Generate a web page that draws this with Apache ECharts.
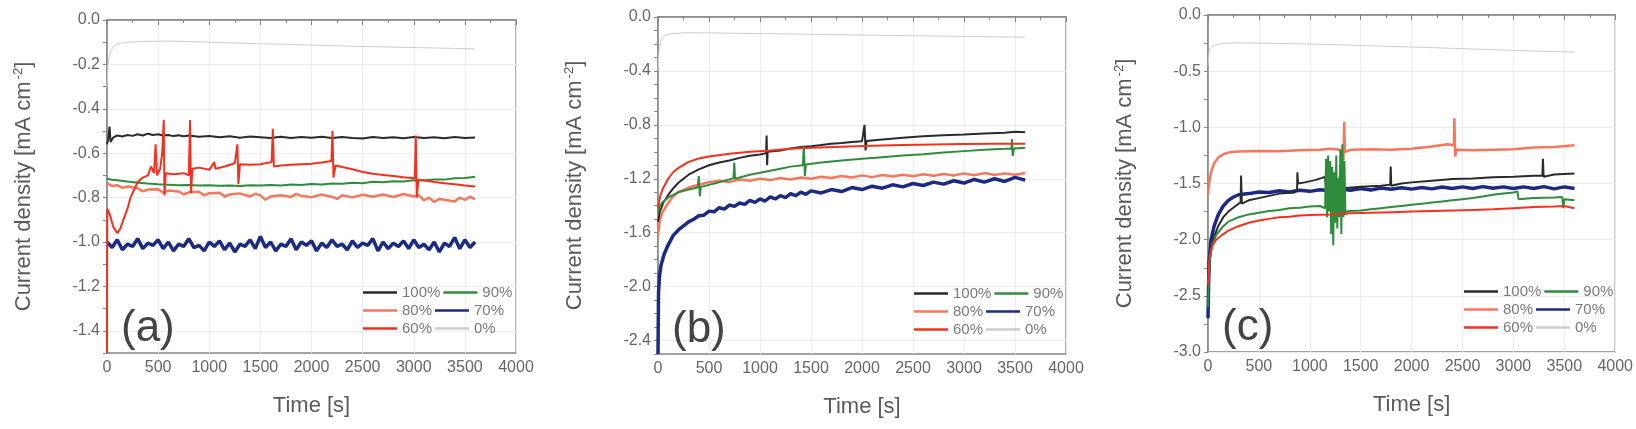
<!DOCTYPE html>
<html lang="en">
<head>
    <meta charset="UTF-8">
    <title>Current density vs time</title>
    <script src="https://cdn.jsdelivr.net/npm/echarts@6/dist/echarts.min.js"></script>
</head>
<body style="margin:0;background:#fff">
<div style="width: 1636px; height: 429px" id="chart"></div>

<script type="text/javascript">
    // legend order and line colours
    var names = ['100%', '90%', '80%', '70%', '60%', '0%'];
    var colors = {'100%': '#2a2a2a', '90%': '#2f8c3c', '80%': '#f6775c', '70%': '#1b2a82', '60%': '#f2321f', '0%': '#cdcdcd'};
    var widths = {'100%': 2, '90%': 2, '80%': 2.5, '70%': 3.5, '60%': 2, '0%': 1};
    var drawOrder = ['0%', '70%', '80%', '100%', '90%', '60%'];

    var xTicks = [0, 500, 1000, 1500, 2000, 2500, 3000, 3500, 4000];

    // ---- panel (a) ----
    var a0 = [[0,-0.3],[10,-0.2],[30,-0.15],[60,-0.12],[100,-0.107],[200,-0.1],[400,-0.096],[600,-0.095],[800,-0.097],[1000,-0.1],[1200,-0.103],[1500,-0.107],[1800,-0.11],[2000,-0.113],[2300,-0.117],[2600,-0.12],[3000,-0.124],[3300,-0.127],[3600,-0.13]];
    var a100 = [[0,-0.56],[10,-0.54],[25,-0.48],[35,-0.55],[60,-0.53],[100,-0.52],[150,-0.525],[200,-0.518],[250,-0.522],[300,-0.515],[350,-0.52],[400,-0.512],[450,-0.518],[500,-0.515],[550,-0.52],[600,-0.518],[650,-0.523],[700,-0.519],[750,-0.524],[800,-0.52],[900,-0.526],[1000,-0.522],[1100,-0.528],[1200,-0.524],[1300,-0.53],[1400,-0.525],[1500,-0.528],[1600,-0.532],[1700,-0.526],[1800,-0.531],[1900,-0.527],[2000,-0.53],[2100,-0.526],[2200,-0.532],[2300,-0.527],[2400,-0.531],[2500,-0.534],[2600,-0.527],[2700,-0.532],[2800,-0.528],[2900,-0.533],[3000,-0.527],[3100,-0.531],[3200,-0.528],[3300,-0.533],[3400,-0.527],[3500,-0.531],[3600,-0.529]];
    var a90 = [[0,-0.715],[50,-0.72],[100,-0.722],[200,-0.728],[300,-0.733],[400,-0.737],[500,-0.74],[600,-0.742],[700,-0.744],[800,-0.743],[900,-0.746],[1000,-0.744],[1100,-0.747],[1200,-0.745],[1300,-0.748],[1400,-0.744],[1500,-0.746],[1600,-0.743],[1700,-0.745],[1800,-0.741],[1900,-0.743],[2000,-0.739],[2100,-0.741],[2200,-0.737],[2300,-0.738],[2400,-0.733],[2500,-0.735],[2600,-0.729],[2700,-0.731],[2800,-0.726],[2900,-0.727],[3000,-0.722],[3100,-0.723],[3200,-0.718],[3300,-0.719],[3400,-0.713],[3500,-0.712],[3600,-0.706]];
    var a80 = [[0,-0.735],[50,-0.748],[100,-0.744],[150,-0.756],[200,-0.75],[300,-0.758],[350,-0.772],[400,-0.764],[500,-0.762],[550,-0.778],[600,-0.768],[700,-0.772],[750,-0.786],[800,-0.776],[900,-0.774],[950,-0.79],[1000,-0.78],[1100,-0.778],[1150,-0.795],[1200,-0.786],[1300,-0.781],[1400,-0.795],[1450,-0.783],[1500,-0.79],[1550,-0.81],[1600,-0.795],[1700,-0.789],[1800,-0.797],[1850,-0.783],[1900,-0.792],[2000,-0.798],[2100,-0.786],[2200,-0.797],[2250,-0.806],[2300,-0.789],[2400,-0.799],[2500,-0.787],[2600,-0.796],[2700,-0.786],[2800,-0.797],[2900,-0.784],[3000,-0.795],[3050,-0.79],[3100,-0.812],[3150,-0.8],[3200,-0.82],[3250,-0.806],[3300,-0.81],[3400,-0.818],[3450,-0.8],[3500,-0.81],[3550,-0.796],[3600,-0.808]];
    var a70 = [[0,-1.0],[50,-1.025],[100,-0.99],[150,-1.035],[200,-1.01],[250,-1.02],[300,-0.985],[350,-1.03],[400,-1.005],[450,-1.015],[500,-0.99],[550,-1.03],[600,-1.0],[650,-1.04],[700,-1.01],[750,-1.02],[800,-0.985],[850,-1.025],[900,-1.015],[950,-1.04],[1000,-1.0],[1050,-1.02],[1100,-0.995],[1150,-1.035],[1200,-1.005],[1250,-1.045],[1300,-1.01],[1350,-1.02],[1400,-0.99],[1450,-1.03],[1500,-0.975],[1550,-1.025],[1600,-1.0],[1650,-1.04],[1700,-1.01],[1750,-1.02],[1800,-0.985],[1850,-1.035],[1900,-1.0],[1950,-1.015],[2000,-0.995],[2050,-1.04],[2100,-1.005],[2150,-1.025],[2200,-0.99],[2250,-1.02],[2300,-1.01],[2350,-1.035],[2400,-0.995],[2450,-1.025],[2500,-1.005],[2550,-1.015],[2600,-0.985],[2650,-1.04],[2700,-1.0],[2750,-1.03],[2800,-1.005],[2850,-1.02],[2900,-0.995],[2950,-1.03],[3000,-0.99],[3050,-1.025],[3100,-1.01],[3150,-1.035],[3200,-1.0],[3250,-1.045],[3300,-1.005],[3350,-1.02],[3400,-0.98],[3450,-1.03],[3500,-0.99],[3550,-1.025],[3600,-1.0]];
    var a60 = [[0,-1.5],[3,-0.85],[30,-0.88],[60,-0.93],[100,-0.96],[130,-0.94],[160,-0.9],[200,-0.85],[230,-0.8],[260,-0.77],[300,-0.73],[350,-0.71],[400,-0.7],[430,-0.66],[460,-0.69],[475,-0.56],[490,-0.7],[520,-0.67],[540,-0.6],[555,-0.45],[562,-0.79],[575,-0.69],[650,-0.695],[750,-0.69],[800,-0.7],[812,-0.45],[822,-0.78],[835,-0.67],[900,-0.665],[1000,-0.675],[1050,-0.64],[1060,-0.67],[1150,-0.66],[1250,-0.645],[1275,-0.56],[1285,-0.74],[1300,-0.65],[1400,-0.652],[1500,-0.65],[1610,-0.64],[1622,-0.49],[1632,-0.66],[1700,-0.655],[1800,-0.652],[1900,-0.65],[2000,-0.648],[2100,-0.642],[2195,-0.635],[2205,-0.5],[2215,-0.71],[2235,-0.655],[2300,-0.662],[2400,-0.672],[2500,-0.685],[2600,-0.693],[2700,-0.698],[2800,-0.703],[2900,-0.708],[3010,-0.713],[3020,-0.52],[3030,-0.8],[3045,-0.72],[3100,-0.722],[3200,-0.73],[3300,-0.735],[3400,-0.74],[3500,-0.745],[3600,-0.75]];

    // ---- panel (b) ----
    var b0 = [[0,-0.4],[10,-0.25],[30,-0.17],[60,-0.14],[120,-0.125],[250,-0.117],[500,-0.118],[1000,-0.123],[1500,-0.128],[2000,-0.134],[2500,-0.139],[3000,-0.144],[3600,-0.15]];
    var b100 = [[0,-1.52],[20,-1.44],[50,-1.38],[100,-1.32],[150,-1.27],[200,-1.23],[300,-1.17],[400,-1.13],[500,-1.1],[600,-1.08],[700,-1.065],[800,-1.045],[900,-1.03],[1000,-1.02],[1060,-1.01],[1065,-0.88],[1070,-1.1],[1075,-1.0],[1200,-0.99],[1300,-0.975],[1400,-0.965],[1500,-0.958],[1600,-0.95],[1700,-0.94],[1800,-0.935],[1900,-0.928],[2000,-0.922],[2025,-0.8],[2035,-0.99],[2045,-0.92],[2200,-0.908],[2400,-0.895],[2600,-0.885],[2800,-0.878],[3000,-0.872],[3200,-0.865],[3400,-0.858],[3500,-0.852],[3600,-0.855]];
    var b90 = [[0,-1.45],[20,-1.4],[50,-1.37],[100,-1.34],[200,-1.3],[300,-1.28],[390,-1.265],[400,-1.18],[410,-1.33],[420,-1.26],[550,-1.235],[700,-1.205],[740,-1.195],[748,-1.08],[755,-1.2],[765,-1.19],[900,-1.17],[1000,-1.155],[1100,-1.14],[1200,-1.125],[1300,-1.11],[1420,-1.1],[1430,-0.955],[1440,-1.18],[1450,-1.095],[1600,-1.08],[1800,-1.065],[2000,-1.052],[2200,-1.04],[2400,-1.028],[2600,-1.018],[2800,-1.005],[3000,-0.995],[3200,-0.985],[3400,-0.978],[3465,-0.975],[3470,-0.905],[3478,-1.03],[3490,-0.975],[3600,-0.97]];
    var b80 = [[0,-1.62],[20,-1.5],[50,-1.44],[100,-1.38],[150,-1.33],[200,-1.3],[300,-1.265],[400,-1.245],[500,-1.225],[600,-1.215],[700,-1.225],[800,-1.205],[900,-1.215],[1000,-1.2],[1100,-1.21],[1200,-1.195],[1300,-1.205],[1400,-1.19],[1500,-1.2],[1600,-1.185],[1700,-1.195],[1800,-1.18],[1900,-1.19],[2000,-1.175],[2100,-1.188],[2200,-1.172],[2300,-1.184],[2400,-1.17],[2500,-1.182],[2600,-1.166],[2700,-1.178],[2800,-1.164],[2900,-1.176],[3000,-1.16],[3100,-1.174],[3200,-1.158],[3300,-1.172],[3400,-1.16],[3500,-1.17],[3600,-1.158]];
    var b70 = [[0,-2.5],[5,-2.05],[15,-1.92],[30,-1.84],[60,-1.76],[100,-1.69],[150,-1.62],[200,-1.58],[250,-1.55],[300,-1.52],[350,-1.5],[400,-1.475],[450,-1.47],[500,-1.44],[550,-1.445],[600,-1.415],[650,-1.425],[700,-1.395],[750,-1.405],[800,-1.38],[850,-1.39],[900,-1.36],[950,-1.375],[1000,-1.35],[1050,-1.365],[1100,-1.335],[1150,-1.35],[1200,-1.325],[1250,-1.34],[1300,-1.31],[1350,-1.325],[1400,-1.3],[1450,-1.315],[1500,-1.29],[1600,-1.305],[1700,-1.28],[1800,-1.295],[1900,-1.265],[2000,-1.28],[2100,-1.255],[2200,-1.27],[2300,-1.245],[2400,-1.26],[2500,-1.235],[2600,-1.25],[2700,-1.225],[2800,-1.24],[2900,-1.215],[3000,-1.232],[3100,-1.205],[3200,-1.225],[3300,-1.2],[3400,-1.22],[3500,-1.19],[3600,-1.21]];
    var b60 = [[0,-1.42],[20,-1.33],[50,-1.27],[100,-1.2],[150,-1.15],[200,-1.12],[300,-1.075],[400,-1.05],[500,-1.035],[700,-1.015],[900,-1.0],[1100,-0.99],[1300,-0.978],[1500,-0.97],[1800,-0.962],[2100,-0.955],[2400,-0.95],[2700,-0.946],[3000,-0.943],[3300,-0.94],[3600,-0.94]];

    // ---- panel (c) ----
    var c0 = [[0,-0.45],[10,-0.33],[30,-0.29],[70,-0.265],[150,-0.252],[300,-0.248],[600,-0.252],[1000,-0.258],[1500,-0.272],[2000,-0.285],[2500,-0.3],[3000,-0.315],[3600,-0.33]];
    var c100 = [[0,-2.5],[20,-2.15],[50,-2.0],[100,-1.88],[150,-1.8],[200,-1.75],[300,-1.68],[320,-1.67],[325,-1.43],[332,-1.68],[400,-1.65],[500,-1.63],[600,-1.61],[700,-1.59],[850,-1.58],[875,-1.56],[878,-1.4],[885,-1.5],[950,-1.49],[1050,-1.47],[1120,-1.45],[1150,-1.44],[1160,-1.55],[1300,-1.545],[1500,-1.53],[1700,-1.52],[1790,-1.51],[1795,-1.35],[1800,-1.52],[1900,-1.5],[2000,-1.49],[2200,-1.475],[2400,-1.46],[2600,-1.455],[2800,-1.445],[3000,-1.44],[3200,-1.43],[3285,-1.43],[3290,-1.28],[3297,-1.44],[3400,-1.42],[3600,-1.41]];
    var c90 = [[0,-2.6],[15,-2.2],[40,-2.05],[80,-1.96],[150,-1.88],[200,-1.84],[300,-1.8],[400,-1.775],[500,-1.76],[600,-1.745],[700,-1.735],[800,-1.72],[900,-1.715],[1000,-1.705],[1100,-1.7],[1150,-1.72],[1160,-1.28],[1170,-1.8],[1180,-1.25],[1190,-1.75],[1200,-1.3],[1210,-1.95],[1220,-1.35],[1230,-2.05],[1240,-1.4],[1250,-1.85],[1260,-1.25],[1270,-1.9],[1280,-1.45],[1290,-1.8],[1300,-1.2],[1310,-1.95],[1320,-1.15],[1330,-1.8],[1340,-1.3],[1350,-1.78],[1360,-1.75],[1400,-1.745],[1500,-1.74],[1600,-1.73],[1700,-1.72],[1800,-1.71],[1900,-1.7],[2000,-1.69],[2100,-1.68],[2200,-1.67],[2300,-1.66],[2400,-1.65],[2500,-1.64],[2600,-1.63],[2700,-1.615],[2800,-1.6],[2900,-1.59],[3000,-1.58],[3040,-1.57],[3050,-1.64],[3200,-1.63],[3400,-1.625],[3480,-1.62],[3490,-1.72],[3500,-1.64],[3600,-1.65]];
    var c80 = [[0,-1.6],[10,-1.5],[30,-1.4],[60,-1.32],[100,-1.27],[150,-1.24],[200,-1.225],[300,-1.215],[500,-1.21],[700,-1.212],[900,-1.205],[1100,-1.2],[1200,-1.19],[1300,-1.2],[1330,-1.29],[1338,-0.95],[1345,-1.22],[1400,-1.2],[1600,-1.195],[1800,-1.2],[2000,-1.19],[2200,-1.17],[2350,-1.15],[2415,-1.16],[2420,-0.92],[2428,-1.26],[2440,-1.2],[2600,-1.205],[2800,-1.2],[3000,-1.195],[3200,-1.18],[3400,-1.175],[3600,-1.16]];
    var c70 = [[0,-2.7],[10,-2.2],[30,-2.0],[60,-1.88],[100,-1.78],[150,-1.7],[200,-1.65],[250,-1.62],[300,-1.6],[400,-1.59],[500,-1.575],[600,-1.58],[700,-1.565],[800,-1.575],[900,-1.56],[1000,-1.57],[1100,-1.555],[1200,-1.565],[1300,-1.55],[1400,-1.56],[1500,-1.545],[1600,-1.558],[1700,-1.54],[1800,-1.552],[1900,-1.538],[2000,-1.55],[2100,-1.535],[2200,-1.548],[2300,-1.532],[2400,-1.545],[2500,-1.53],[2600,-1.545],[2700,-1.528],[2800,-1.542],[2900,-1.53],[3000,-1.545],[3100,-1.53],[3200,-1.545],[3300,-1.528],[3400,-1.548],[3500,-1.53],[3600,-1.545]];
    var c60 = [[0,-2.4],[15,-2.15],[40,-2.06],[80,-2.0],[150,-1.95],[200,-1.92],[300,-1.88],[400,-1.85],[500,-1.83],[600,-1.815],[700,-1.8],[800,-1.795],[900,-1.785],[1000,-1.78],[1200,-1.775],[1400,-1.765],[1600,-1.76],[1800,-1.755],[2000,-1.75],[2200,-1.745],[2400,-1.74],[2600,-1.735],[2800,-1.73],[3000,-1.72],[3200,-1.71],[3400,-1.705],[3500,-1.7],[3600,-1.72]];

    var panels = [
        {tag: '(a)', min: -1.5, step: 0.1, labelEvery: 2, grid: {left: 107, top: 20, width: 409, height: 333},
         data: {'0%': a0, '100%': a100, '90%': a90, '80%': a80, '70%': a70, '60%': a60}},
        {tag: '(b)', min: -2.5, step: 0.1, labelEvery: 4, grid: {left: 658, top: 17, width: 408, height: 337},
         data: {'0%': b0, '100%': b100, '90%': b90, '80%': b80, '70%': b70, '60%': b60}},
        {tag: '(c)', min: -3.0, step: 0.25, labelEvery: 2, grid: {left: 1208, top: 15, width: 408, height: 337},
         data: {'0%': c0, '100%': c100, '90%': c90, '80%': c80, '70%': c70, '60%': c60}}
    ];

    var font = 'Liberation Sans, Arial, sans-serif';
    var axisC = '#858585';
    var gridC = '#ececec';
    var textC = '#5a5a5a';

    var option = {
        animation: false,
        textStyle: {fontFamily: font},
        grid: [], xAxis: [], yAxis: [], legend: [], title: [], series: []
    };

    panels.forEach(function (p, i) {
        var g = p.grid;
        option.grid.push({left: g.left, top: g.top, width: g.width, height: g.height,
            show: true, borderColor: axisC, borderWidth: 1.3, containLabel: false});

        option.xAxis.push({
            type: 'value', gridIndex: i, min: xTicks[0], max: xTicks[xTicks.length - 1], interval: 500,
            name: 'Time [s]', nameLocation: 'middle', nameGap: 42,
            nameTextStyle: {fontSize: 22, color: textC, fontFamily: font},
            axisLine: {lineStyle: {color: axisC, width: 1.5}},
            axisTick: {length: 5, lineStyle: {color: axisC}},
            minorTick: {show: true, splitNumber: 2, length: 3, lineStyle: {color: axisC}},
            axisLabel: {fontSize: 16, color: '#666', margin: 7, fontFamily: font,
                formatter: function (v) { return String(v); }},
            splitLine: {show: true, lineStyle: {color: gridC, width: 1}}
        });

        // split line colours: only at labelled ticks (ticks are counted from min)
        var splitColors = [];
        for (var k = 0; k < p.labelEvery; k++) splitColors.push('rgba(0,0,0,0)');
        var firstLab = Math.round((Math.ceil(p.min / (p.step * p.labelEvery) - 1e-9) * p.step * p.labelEvery - p.min) / p.step);
        splitColors[firstLab % p.labelEvery] = gridC;

        option.yAxis.push({
            type: 'value', gridIndex: i, min: p.min, max: 0, interval: p.step,
            name: 'Current density [mA cm{sup|-2}]', nameLocation: 'middle', nameGap: 72,
            nameTextStyle: {fontSize: 22, color: textC, fontFamily: font,
                rich: {sup: {fontSize: 13, color: textC, verticalAlign: 'top', padding: [0, 0, 10, 2]}}},
            axisLine: {lineStyle: {color: axisC, width: 1.5}},
            axisTick: {length: 4, lineStyle: {color: axisC}},
            axisLabel: {fontSize: 16, color: '#666', margin: 7, fontFamily: font,
                formatter: function (v) {
                    var n = Math.round(v / (p.step * p.labelEvery));
                    if (Math.abs(v - n * p.step * p.labelEvery) > 1e-6) return '';
                    return (Math.abs(v) < 1e-9 ? 0 : v).toFixed(1);
                }},
            splitLine: {show: true, lineStyle: {color: splitColors, width: 1}}
        });

        option.title.push({
            text: p.tag, left: g.left + 14, top: g.top + g.height - 46, padding: 0,
            textStyle: {fontSize: 44, fontWeight: 'normal', color: '#444', fontFamily: font}
        });

        option.legend.push({
            data: names, left: g.left + 256, top: g.top + g.height - 68, width: 165,
            orient: 'horizontal', padding: 0, itemGap: 3, itemWidth: 34, itemHeight: 2.5,
            icon: 'rect', selectedMode: false,
            textStyle: {fontSize: 15, color: '#7a7a7a', width: 40, fontFamily: font}
        });

        drawOrder.forEach(function (name) {
            option.series.push({
                name: name, type: 'line', xAxisIndex: i, yAxisIndex: i,
                data: p.data[name], showSymbol: false, symbol: 'none',
                lineStyle: {color: colors[name], width: widths[name]},
                itemStyle: {color: colors[name]},
                clip: true
            });
        });
    });

    var myChart = echarts.init(document.getElementById('chart'));
    myChart.setOption(option);
</script>
</body>
</html>
